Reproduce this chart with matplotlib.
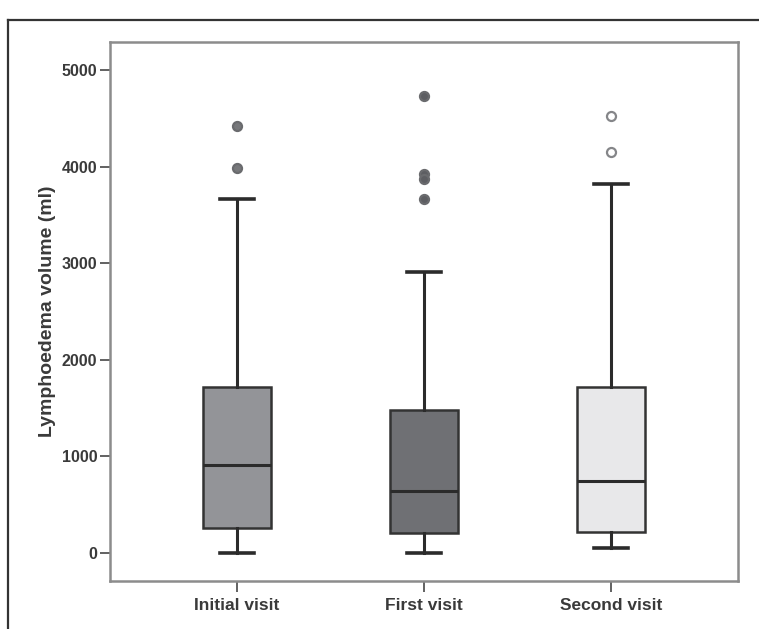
import matplotlib
matplotlib.use("Agg")
import matplotlib.pyplot as plt
from matplotlib.lines import Line2D

categories = ["Initial visit", "First visit", "Second visit"]
whisker_low = [0, 0, 50]
q1 = [260, 210, 215]
medians = [910, 645, 745]
q3 = [1720, 1480, 1720]
whisker_high = [3665, 2905, 3820]
outliers = [[4420, 3985], [4730, 3925, 3875, 3660], [4520, 4150]]
yticks = [0, 1000, 2000, 3000, 4000, 5000]

box_colors = ["#939498", "#6f7074", "#e8e8ea"]
flier_face = ["#77787b", "#5d5e62", "white"]

plt.rcParams['font.family'] = ['Liberation Sans', 'DejaVu Sans']

fig = plt.figure(figsize=(7.59, 6.29), dpi=100)
ax = fig.add_axes([110 / 759, 48 / 629, 628 / 759, 539 / 629])

stats = []
for i, name in enumerate(categories):
    stats.append(dict(label=name, whislo=whisker_low[i], q1=q1[i], med=medians[i],
                      q3=q3[i], whishi=whisker_high[i], fliers=outliers[i]))

bp = ax.bxp(stats, positions=[1, 2, 3], widths=0.36, patch_artist=True,
            showfliers=True,
            boxprops=dict(edgecolor="#333333", linewidth=1.8),
            medianprops=dict(color="#2b2b2b", linewidth=2.2),
            whiskerprops=dict(color="#2b2b2b", linewidth=2.2),
            capprops=dict(color="#2b2b2b", linewidth=2.6),
            capwidths=0.18)

for patch, c in zip(bp["boxes"], box_colors):
    patch.set_facecolor(c)
for fl, fc in zip(bp["fliers"], flier_face):
    fl.set_marker("o")
    fl.set_markersize(6.5)
    fl.set_markerfacecolor(fc)
    fl.set_markeredgecolor("#6a6b6e" if fc != "white" else "#858689")
    fl.set_markeredgewidth(1.6)

ax.set_xlim(0.32, 3.68)
ax.set_ylim(-290, 5290)
ax.set_yticks(yticks)
ax.set_yticklabels([str(v) for v in yticks])
ax.set_xticks([1, 2, 3])
ax.set_xticklabels(categories)

for s in ax.spines.values():
    s.set_color("#8c8c8c")
    s.set_linewidth(1.8)

ax.tick_params(axis="both", direction="out", color="#555555", width=1.3,
               labelcolor="#3a3a3a")
ax.tick_params(axis="y", length=7, pad=2, labelsize=11.5)
ax.tick_params(axis="x", length=8, pad=4, labelsize=12.5)
for lab in ax.get_xticklabels() + ax.get_yticklabels():
    lab.set_fontweight("bold")

ax.set_ylabel("Lymphoedema volume (ml)", fontsize=14, fontweight="bold",
              color="#3a3a3a", labelpad=4)

# outer border of the original figure
fig.add_artist(Line2D([8 / 759, 8 / 759], [0, 1 - 20 / 629], color="#333333",
                      linewidth=1.6, transform=fig.transFigure))
fig.add_artist(Line2D([8 / 759, 1], [1 - 20 / 629, 1 - 20 / 629], color="#333333",
                      linewidth=1.6, transform=fig.transFigure))

fig.savefig("out.png", dpi=100)
